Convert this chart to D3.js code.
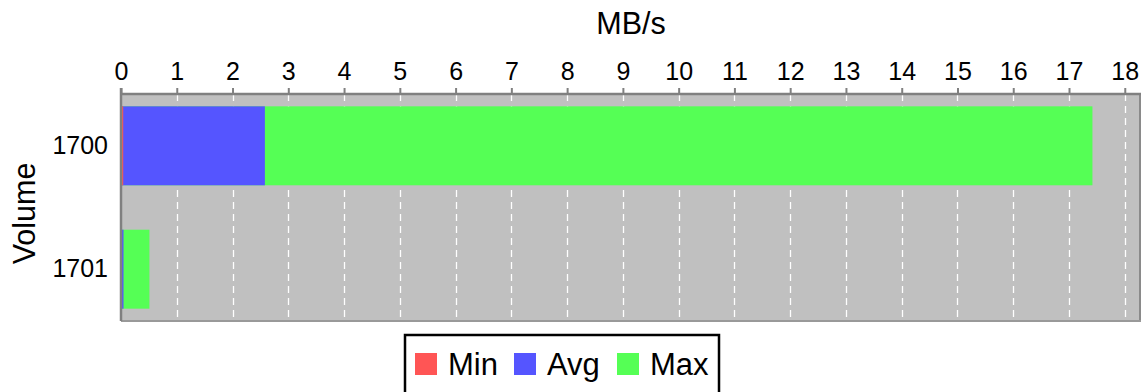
<!DOCTYPE html>
<html>
<head>
<meta charset="utf-8">
<script src="https://cdn.jsdelivr.net/npm/d3@7"></script>
<style>
  html, body { margin: 0; padding: 0; background: #ffffff; }
  svg { display: block; font-family: "Liberation Sans", Arial, sans-serif; }
</style>
</head>
<body>
<svg id="chart" width="1142" height="392"></svg>
<script>
const categories = ["1700", "1701"];
const seriesNames = ["Min", "Avg", "Max"];
const minValues = [0.04, 0.006];
const avgValues = [2.58, 0.045];
const maxValues = [17.42, 0.51];
const xTicks = [0,1,2,3,4,5,6,7,8,9,10,11,12,13,14,15,16,17,18];
const colors = {Min: "#ff5555", Avg: "#5555ff", Max: "#55ff55"};

const svg = d3.select("#chart");
const pLeft = 121, pRight = 1141, pTop = 94, pBottom = 321;

const x = d3.scaleLinear()
  .domain([0, d3.max(maxValues) * 1.05])
  .range([pLeft, pRight]);
const y = d3.scaleBand()
  .domain(categories)
  .range([pTop, pBottom])
  .paddingInner(0.36)
  .paddingOuter(0.1);

// plot background
svg.append("rect")
  .attr("x", pLeft).attr("y", pTop)
  .attr("width", pRight - pLeft).attr("height", pBottom - pTop)
  .attr("fill", "#c0c0c0");

// grid lines
svg.append("g").selectAll("line")
  .data(xTicks.filter(d => d > 0))
  .join("line")
  .attr("x1", d => Math.round(x(d)) + 0.5).attr("x2", d => Math.round(x(d)) + 0.5)
  .attr("y1", pTop).attr("y2", pBottom)
  .attr("stroke", "#ffffff").attr("stroke-width", 1.3)
  .attr("stroke-dasharray", "7,5");

// bars: max, avg, min overlaid
const seriesData = {Max: maxValues, Avg: avgValues, Min: minValues};
["Max", "Avg", "Min"].forEach(name => {
  svg.append("g").selectAll("rect")
    .data(categories)
    .join("rect")
    .attr("x", x(0))
    .attr("y", d => y(d))
    .attr("width", (d, i) => x(seriesData[name][i]) - x(0))
    .attr("height", y.bandwidth())
    .attr("fill", colors[name]);
});

// frame
svg.append("line").attr("x1", pRight - 1).attr("x2", pRight - 1)
  .attr("y1", pTop).attr("y2", pBottom).attr("stroke", "#8a8a8a").attr("stroke-width", 2);
svg.append("line").attr("x1", pLeft).attr("x2", pRight)
  .attr("y1", pBottom).attr("y2", pBottom).attr("stroke", "#999999").attr("stroke-width", 2);

// top axis
const xAxis = d3.axisTop(x).tickValues(xTicks).tickSize(6).tickPadding(8).tickFormat(d3.format("d"));
const gx = svg.append("g").attr("transform", `translate(0,${pTop})`).call(xAxis);
gx.select(".domain").attr("stroke", "#808080").attr("stroke-width", 2.5)
  .attr("d", `M${pLeft},0H${pRight}`);
gx.selectAll(".tick line").attr("stroke", "#808080").attr("stroke-width", 2);
gx.selectAll(".tick text").attr("fill", "#000").style("font-size", "25px")
  .style("font-family", "'Liberation Sans', Arial, sans-serif");

// left axis
const yAxis = d3.axisLeft(y).tickSize(0).tickPadding(13);
const gy = svg.append("g").attr("transform", `translate(${pLeft},0)`).call(yAxis);
gy.select(".domain").attr("stroke", "#808080").attr("stroke-width", 2.5)
  .attr("d", `M0,${pTop - 6}V${pBottom}`);
gy.selectAll(".tick text").attr("fill", "#000").style("font-size", "25px")
  .style("font-family", "'Liberation Sans', Arial, sans-serif");

// titles
svg.append("text").attr("x", (pLeft + pRight) / 2).attr("y", 34)
  .attr("text-anchor", "middle").style("font-size", "30.5px").text("MB/s");
svg.append("text").attr("transform", `translate(35,${(pTop + pBottom) / 2 + 6}) rotate(-90)`)
  .attr("text-anchor", "middle").style("font-size", "30.5px").text("Volume");

// legend
const lg = svg.append("g");
lg.append("rect").attr("x", 405).attr("y", 335).attr("width", 314).attr("height", 70)
  .attr("fill", "#fff").attr("stroke", "#000").attr("stroke-width", 2.5);
const legendX = [415, 514, 617];
seriesNames.forEach((name, i) => {
  lg.append("rect").attr("x", legendX[i]).attr("y", 353).attr("width", 22).attr("height", 22)
    .attr("fill", colors[name]);
  lg.append("text").attr("x", legendX[i] + 33).attr("y", 375)
    .style("font-size", "31px").text(name);
});
</script>
</body>
</html>
